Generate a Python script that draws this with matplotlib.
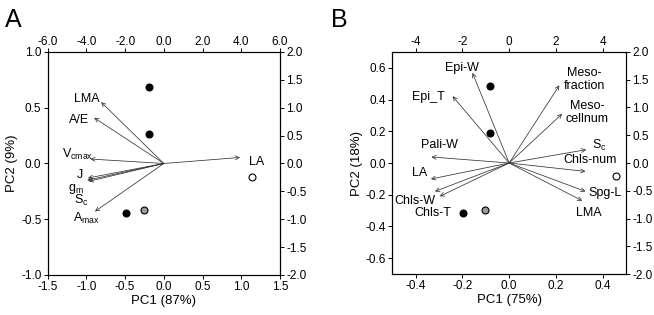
import matplotlib
matplotlib.use("Agg")
import matplotlib.pyplot as plt
import numpy as np

plt.rcParams['font.family'] = ['Liberation Sans', 'DejaVu Sans']
plt.rcParams['mathtext.fontset'] = 'custom'
plt.rcParams['mathtext.rm'] = 'Liberation Sans'
plt.rcParams['mathtext.it'] = 'Liberation Sans'

# ---- panel A data ----
a_pts_x = [-0.19, -0.19, -0.49, -0.26, 1.145]
a_pts_y = [0.686, 0.262, -0.448, -0.42, -0.12]
a_pts_fill = ['black', 'black', 'black', '#9a9a9a', 'white']

a_vec_names = ['LMA', 'A/E', r'V$_\mathregular{cmax}$', 'LA', 'J',
               r'g$_\mathregular{m}$', r'S$_\mathregular{c}$', r'A$_\mathregular{max}$']
a_vec_x = [-0.81, -0.90, -0.95, 0.985, -0.98, -0.99, -0.97, -0.89]
a_vec_y = [0.55, 0.41, 0.04, 0.054, -0.13, -0.15, -0.16, -0.43]
a_lab_x = [-1.0, -1.09, -1.12, 1.2, -1.08, -1.14, -1.06, -1.0]
a_lab_y = [0.58, 0.39, 0.08, 0.01, -0.105, -0.225, -0.335, -0.49]

# ---- panel B data ----
b_pts_x = [-0.082, -0.082, -0.196, -0.105, 0.456]
b_pts_y = [0.488, 0.19, -0.312, -0.295, -0.08]
b_pts_fill = ['black', 'black', 'black', '#9a9a9a', 'white']

b_vec_names = ['Epi-W', 'Epi_T', 'Meso-\nfraction', 'Meso-\ncellnum',
               r'S$_\mathregular{c}$', 'Chls-num', 'Spg-L', 'LMA',
               'Pali-W', 'LA', 'Chls-W', 'Chls-T']
b_vec_x = [-0.157, -0.242, 0.215, 0.227, 0.33, 0.327, 0.327, 0.313,
           -0.333, -0.335, -0.318, -0.297]
b_vec_y = [0.568, 0.421, 0.49, 0.31, 0.084, -0.053, -0.179, -0.238,
           0.038, -0.101, -0.179, -0.21]
b_lab_x = [-0.203, -0.347, 0.323, 0.334, 0.385, 0.348, 0.409, 0.341,
           -0.30, -0.383, -0.404, -0.325]
b_lab_y = [0.60, 0.417, 0.526, 0.316, 0.111, 0.02, -0.186, -0.316,
           0.111, -0.063, -0.242, -0.316]

fig = plt.figure(figsize=(6.54, 3.15), dpi=100)
tick_fs = 8.5
lab_fs = 9


def biplot(rect, xlim, ylim, xticks, yticks, xfmt, yfmt,
           top_lim, top_ticks, top_fmt, right_lim, right_ticks, right_fmt,
           xlabel, ylabel, px, py, pfill, vx, vy, names, lx, ly):
    ax = fig.add_axes(rect)
    ax.set_xlim(*xlim)
    ax.set_ylim(*ylim)
    ax.set_xticks(xticks)
    ax.set_yticks(yticks)
    ax.set_xticklabels([xfmt % t for t in xticks])
    ax.set_yticklabels([yfmt % t for t in yticks])
    ax.tick_params(direction='out', length=3, width=0.7, labelsize=tick_fs, pad=1.5)
    ax.set_xlabel(xlabel, fontsize=9.5, labelpad=1)
    ax.set_ylabel(ylabel, fontsize=9.5, labelpad=2)
    for s in ax.spines.values():
        s.set_linewidth(0.7)

    axt = ax.twiny()
    axt.set_xlim(*top_lim)
    axt.set_xticks(top_ticks)
    axt.set_xticklabels([top_fmt % t for t in top_ticks])
    axt.tick_params(direction='out', length=3, width=0.7, labelsize=tick_fs, pad=0)
    axr = ax.twinx()
    axr.set_ylim(*right_lim)
    axr.set_yticks(right_ticks)
    axr.set_yticklabels([right_fmt % t for t in right_ticks])
    axr.tick_params(direction='out', length=3, width=0.7, labelsize=tick_fs, pad=1.5)

    for x, y in zip(vx, vy):
        ax.annotate('', xy=(x, y), xytext=(0, 0),
                    arrowprops=dict(arrowstyle='->', lw=0.55, color='#333333',
                                    shrinkA=0, shrinkB=0, mutation_scale=7))
    for n, x, y in zip(names, lx, ly):
        ax.text(x, y, n, fontsize=lab_fs, ha='center', va='center',
                linespacing=1.1)
    for x, y, c in zip(px, py, pfill):
        ax.plot(x, y, 'o', ms=5, mfc=c, mec='black', mew=0.8, zorder=5)
    return ax


biplot([0.073, 0.127, 0.355, 0.708], (-1.5, 1.5), (-1.0, 1.0),
       np.arange(-1.5, 1.51, 0.5), np.arange(-1.0, 1.01, 0.5), '%.1f', '%.1f',
       (-6, 6), np.arange(-6, 6.1, 2), '%.1f', (-2, 2), np.arange(-2, 2.01, 0.5), '%.1f',
       'PC1 (87%)', 'PC2 (9%)', a_pts_x, a_pts_y, a_pts_fill,
       a_vec_x, a_vec_y, a_vec_names, a_lab_x, a_lab_y)

biplot([0.600, 0.130, 0.357, 0.705], (-0.5, 0.5), (-0.7, 0.7),
       np.arange(-0.4, 0.41, 0.2), np.arange(-0.6, 0.61, 0.2), '%.1f', '%.1f',
       (-5, 5), np.arange(-4, 4.1, 2), '%d', (-2, 2), np.arange(-2, 2.01, 0.5), '%.1f',
       'PC1 (75%)', 'PC2 (18%)', b_pts_x, b_pts_y, b_pts_fill,
       b_vec_x, b_vec_y, b_vec_names, b_lab_x, b_lab_y)

fig.text(0.008, 0.975, 'A', fontsize=18, ha='left', va='top')
fig.text(0.506, 0.975, 'B', fontsize=18, ha='left', va='top')

fig.savefig('out.png', dpi=100)
